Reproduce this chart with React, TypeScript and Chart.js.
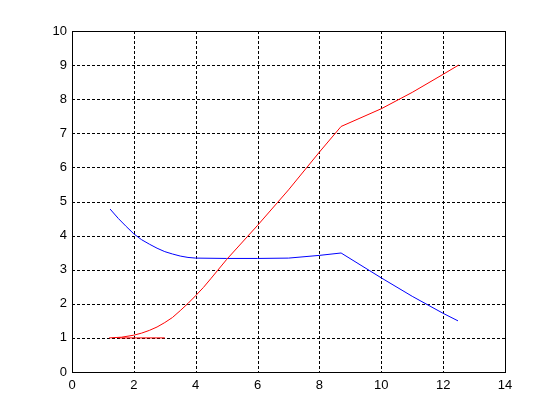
import React, { useEffect, useRef } from "react";
import { Chart, registerables } from "chart.js";

Chart.register(...registerables);

const redCurveX = [1.2, 1.6, 2, 2.25, 2.5, 2.75, 3, 3.25, 3.5, 3.75, 4, 4.25, 4.5, 5, 6, 7, 8, 8.7, 10, 11, 12, 12.5];
const redCurveY = [1.0, 1.02, 1.08, 1.14, 1.22, 1.32, 1.45, 1.6, 1.8, 2.01, 2.24, 2.48, 2.75, 3.3, 4.3, 5.34, 6.45, 7.2, 7.72, 8.2, 8.73, 9.0];
const redFlatX = [1.5, 3];
const redFlatY = [1, 1];
const blueX = [1.23, 1.5, 1.75, 2, 2.25, 2.5, 2.75, 3, 3.25, 3.5, 3.75, 4, 5, 6, 7, 8, 8.7, 10, 11, 12, 12.48];
const blueY = [4.78, 4.5, 4.27, 4.05, 3.88, 3.75, 3.63, 3.53, 3.46, 3.4, 3.36, 3.34, 3.33, 3.33, 3.34, 3.42, 3.49, 2.76, 2.22, 1.72, 1.5];

const xMin = 0, xMax = 14, xStep = 2;
const yMin = 0, yMax = 10, yStep = 1;

const pts = (xs: number[], ys: number[]) => xs.map((x, i) => ({ x, y: ys[i] }));

export default function App() {
  const ref = useRef<HTMLCanvasElement>(null);
  useEffect(() => {
    if (!ref.current) return;
    const font = { family: "Liberation Sans, Arial, sans-serif", size: 13 };
    const line = (xs: number[], ys: number[], color: string) => ({
      data: pts(xs, ys), borderColor: color, showLine: true, pointRadius: 0, borderWidth: 1, tension: 0,
    });
    const chart = new Chart(ref.current, {
      type: "scatter",
      data: {
        datasets: [
          line(redFlatX, redFlatY, "#ff0000"),
          line(redCurveX, redCurveY, "#ff0000"),
          line(blueX, blueY, "#0000ff"),
        ],
      },
      options: {
        animation: false,
        responsive: false,
        layout: { padding: { left: 0, top: 31, right: 55, bottom: 0 } },
        plugins: { legend: { display: false }, tooltip: { enabled: false } },
        scales: {
          x: {
            type: "linear",
            min: xMin,
            max: xMax,
            ticks: { stepSize: xStep, color: "#000", font, padding: 6 },
            grid: { display: false, drawTicks: false },
            border: { display: false },
            afterFit: (s: any) => { s.height = 48; },
          },
          y: {
            type: "linear",
            min: yMin,
            max: yMax,
            ticks: { stepSize: yStep, color: "#000", font, padding: 5 },
            grid: { display: false, drawTicks: false },
            border: { display: false },
            afterFit: (s: any) => { s.width = 72; },
          },
        },
      },
      plugins: [
        {
          id: "gridbox",
          beforeDatasetsDraw(c: any) {
            const { left, right, top, bottom } = c.chartArea;
            const ctx = c.ctx;
            const xs = c.scales.x, ys = c.scales.y;
            ctx.save();
            ctx.strokeStyle = "#000";
            ctx.lineWidth = 1;
            ctx.setLineDash([3, 2]);
            ctx.beginPath();
            xs.ticks.forEach((t: any) => {
              const px = Math.round(xs.getPixelForValue(t.value)) + 0.5;
              ctx.moveTo(px, top);
              ctx.lineTo(px, bottom);
            });
            ys.ticks.forEach((t: any) => {
              const py = Math.round(ys.getPixelForValue(t.value)) + 0.5;
              ctx.moveTo(left, py);
              ctx.lineTo(right, py);
            });
            ctx.stroke();
            ctx.setLineDash([]);
            ctx.strokeRect(Math.round(left) + 0.5, Math.round(top) + 0.5, Math.round(right - left), Math.round(bottom - top));
            ctx.restore();
          },
        },
      ],
    } as any);
    return () => chart.destroy();
  }, []);
  return (
    <div style={{ position: "fixed", left: 0, top: 0, width: 560, height: 420, background: "#fff" }}>
      <canvas ref={ref} width={560} height={420} />
    </div>
  );
}
